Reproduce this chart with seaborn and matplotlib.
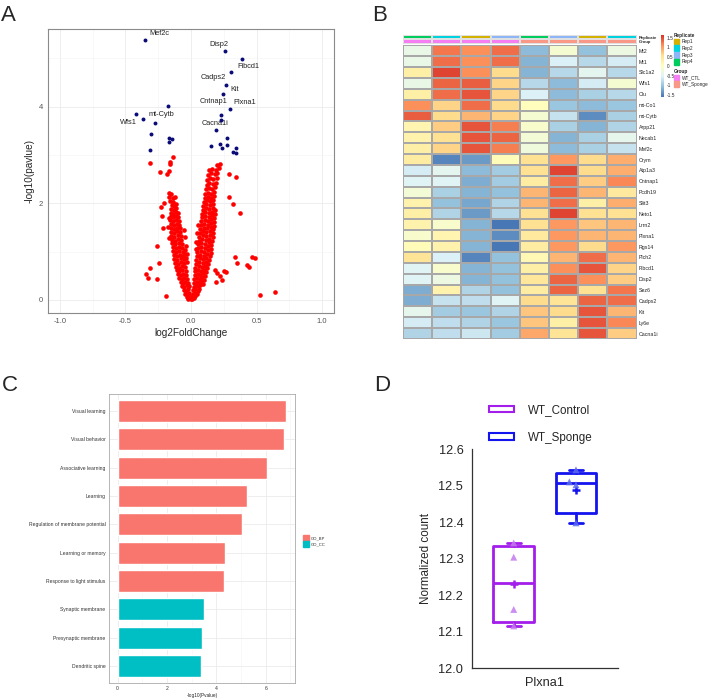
import matplotlib
matplotlib.use("Agg")
import matplotlib.pyplot as plt
import seaborn as sns
import pandas as pd
import numpy as np
from matplotlib.colors import ListedColormap, LinearSegmentedColormap
from matplotlib.patches import Patch

sns.set_style("white")
plt.rcParams['font.family'] = ['Liberation Sans', 'DejaVu Sans']
plt.rcParams['axes.unicode_minus'] = False

# ---------------- data: A (volcano) ----------------
sig_lfc = [-0.349, 0.260, 0.392, 0.305, 0.267, 0.242, 0.300, 0.232, 0.232, 0.193, 0.275, 0.219, 0.150,
           0.277, 0.234, 0.343, 0.318, 0.341, -0.176, -0.422, -0.369, -0.277, -0.305, -0.165, -0.142, -0.170, -0.313]
sig_logp = [5.39, 5.15, 4.99, 4.73, 4.46, 4.26, 3.95, 3.83, 3.72, 3.52, 3.36, 3.23, 3.19,
            3.21, 3.14, 3.14, 3.07, 3.05, 4.01, 3.84, 3.75, 3.67, 3.43, 3.36, 3.33, 3.27, 3.10]
label_genes = ['Mef2c', 'Disp2', 'Fibcd1', 'Cadps2', 'Kit', 'Cntnap1', 'Plxna1', 'Cacna1i', 'mt-Cytb', 'Wfs1']
label_x = [-0.24, 0.209, 0.44, 0.173, 0.333, 0.168, 0.407, 0.18, -0.226, -0.476]
label_y = [5.52, 5.28, 4.84, 4.61, 4.35, 4.11, 4.08, 3.66, 3.84, 3.68]

red_pts = [
    (-0.020, 0.02), (-0.008, 0.04), (0.000, 0.01), (0.010, 0.03), (0.022, 0.05), (-0.032, 0.07), (0.034, 0.08), (0.004, 0.09),
    (-0.042, 0.13), (-0.026, 0.11), (-0.012, 0.14), (0.014, 0.12), (0.028, 0.15), (0.042, 0.13),
    (-0.056, 0.21), (-0.040, 0.19), (-0.022, 0.22), (0.018, 0.20), (0.034, 0.23), (0.050, 0.19), (0.062, 0.22),
    (-0.070, 0.29), (-0.052, 0.27), (-0.032, 0.30), (-0.018, 0.28), (0.020, 0.27), (0.038, 0.30), (0.056, 0.28), (0.072, 0.31),
    (-0.080, 0.37), (-0.064, 0.35), (-0.046, 0.38), (-0.026, 0.36), (0.022, 0.35), (0.042, 0.38), (0.062, 0.36), (0.080, 0.39), (0.092, 0.34),
    (-0.090, 0.45), (-0.072, 0.43), (-0.054, 0.46), (-0.032, 0.44), (0.026, 0.43), (0.046, 0.46), (0.066, 0.44), (0.086, 0.47), (0.100, 0.42),
    (-0.100, 0.53), (-0.080, 0.51), (-0.060, 0.54), (-0.036, 0.52), (0.028, 0.51), (0.050, 0.54), (0.072, 0.52), (0.094, 0.55), (0.108, 0.50),
    (-0.108, 0.61), (-0.088, 0.59), (-0.066, 0.62), (-0.040, 0.60), (0.030, 0.59), (0.054, 0.62), (0.078, 0.60), (0.100, 0.63), (0.118, 0.58),
    (-0.115, 0.69), (-0.094, 0.67), (-0.070, 0.70), (-0.044, 0.68), (0.034, 0.67), (0.058, 0.70), (0.082, 0.68), (0.106, 0.71), (0.125, 0.66),
    (-0.120, 0.77), (-0.100, 0.75), (-0.076, 0.78), (-0.050, 0.76), (-0.034, 0.79), (0.036, 0.75), (0.062, 0.78), (0.088, 0.76), (0.112, 0.79), (0.132, 0.74),
    (-0.126, 0.85), (-0.104, 0.83), (-0.080, 0.86), (-0.054, 0.84), (-0.038, 0.87), (0.040, 0.83), (0.066, 0.86), (0.092, 0.84), (0.118, 0.87), (0.138, 0.82),
    (-0.132, 0.93), (-0.108, 0.91), (-0.084, 0.94), (-0.058, 0.92), (-0.042, 0.95), (0.044, 0.91), (0.070, 0.94), (0.096, 0.92), (0.122, 0.95), (0.145, 0.90),
    (-0.138, 1.01), (-0.112, 0.99), (-0.088, 1.02), (-0.062, 1.00), (-0.045, 1.03), (0.046, 0.99), (0.074, 1.02), (0.100, 1.00), (0.126, 1.03), (0.150, 0.98),
    (-0.140, 1.09), (-0.116, 1.07), (-0.090, 1.10), (-0.066, 1.08), (0.050, 1.07), (0.076, 1.10), (0.104, 1.08), (0.130, 1.11), (0.152, 1.06),
    (-0.144, 1.17), (-0.120, 1.15), (-0.094, 1.18), (-0.070, 1.16), (0.054, 1.15), (0.080, 1.18), (0.108, 1.16), (0.134, 1.19), (0.156, 1.14),
    (-0.146, 1.25), (-0.122, 1.23), (-0.098, 1.26), (-0.074, 1.24), (0.058, 1.23), (0.084, 1.26), (0.112, 1.24), (0.138, 1.27), (0.160, 1.22),
    (-0.150, 1.33), (-0.126, 1.31), (-0.100, 1.34), (-0.078, 1.32), (0.062, 1.31), (0.088, 1.34), (0.116, 1.32), (0.142, 1.35), (0.164, 1.30),
    (-0.152, 1.41), (-0.128, 1.39), (-0.104, 1.42), (-0.082, 1.40), (0.066, 1.39), (0.092, 1.42), (0.118, 1.40), (0.146, 1.43), (0.168, 1.38),
    (-0.154, 1.49), (-0.130, 1.47), (-0.106, 1.50), (-0.086, 1.48), (0.070, 1.47), (0.096, 1.50), (0.122, 1.48), (0.150, 1.51), (0.170, 1.46),
    (-0.156, 1.57), (-0.132, 1.55), (-0.110, 1.58), (-0.090, 1.56), (0.074, 1.55), (0.100, 1.58), (0.126, 1.56), (0.152, 1.59), (0.174, 1.54),
    (-0.158, 1.65), (-0.134, 1.63), (-0.112, 1.66), (-0.094, 1.64), (0.078, 1.63), (0.104, 1.66), (0.130, 1.64), (0.156, 1.67), (0.176, 1.62),
    (-0.156, 1.73), (-0.136, 1.71), (-0.116, 1.74), (-0.098, 1.72), (0.082, 1.71), (0.108, 1.74), (0.134, 1.72), (0.160, 1.75), (0.178, 1.70),
    (-0.154, 1.81), (-0.136, 1.79), (-0.118, 1.82), (-0.100, 1.80), (0.086, 1.79), (0.110, 1.82), (0.136, 1.80), (0.162, 1.83), (0.180, 1.78),
    (-0.150, 1.89), (-0.132, 1.87), (-0.114, 1.90), (0.090, 1.87), (0.114, 1.90), (0.140, 1.88), (0.164, 1.91), (0.182, 1.86),
    (-0.148, 1.97), (-0.130, 1.95), (-0.112, 1.98), (0.094, 1.95), (0.118, 1.98), (0.144, 1.96), (0.168, 1.99),
    (-0.160, 2.05), (-0.135, 2.03), (0.100, 2.03), (0.122, 2.06), (0.148, 2.04), (0.170, 2.07),
    (-0.165, 2.13), (-0.140, 2.11), (-0.120, 2.14), (0.104, 2.11), (0.126, 2.14), (0.152, 2.12), (0.174, 2.15),
    (-0.170, 2.21), (-0.150, 2.19), (0.108, 2.19), (0.130, 2.22), (0.156, 2.20), (0.178, 2.23),
    (0.114, 2.29), (0.136, 2.32), (0.160, 2.30), (0.180, 2.33),
    (0.120, 2.39), (0.140, 2.42), (0.164, 2.40), (0.190, 2.43),
    (0.124, 2.49), (0.146, 2.52), (0.170, 2.50), (0.196, 2.53),
    (0.130, 2.59), (0.152, 2.62), (0.180, 2.60), (0.200, 2.63),
    (0.140, 2.69), (0.160, 2.72), (0.190, 2.70), (0.215, 2.73),
    (0.200, 2.80), (0.220, 2.82),
    (-0.030, 0.95), (-0.035, 1.12), (-0.045, 1.30), (0.035, 1.05), (0.040, 1.20), (0.045, 1.38), (-0.050, 1.45),
    (0.050, 1.55), (-0.170, 1.28), (-0.172, 1.52), (-0.168, 1.70),
    (-0.239, 2.65), (-0.183, 2.61), (-0.170, 2.66), (-0.163, 2.81), (-0.158, 2.85), (-0.140, 2.97), (-0.310, 2.83),
    (-0.209, 2.00), (-0.226, 1.92), (-0.221, 1.73), (-0.213, 1.50), (-0.257, 1.11), (-0.244, 0.77), (-0.341, 0.54),
    (-0.328, 0.46), (-0.310, 0.66), (-0.260, 0.44), (-0.190, 0.08),
    (0.290, 2.60), (0.343, 2.54), (0.290, 2.13), (0.320, 1.98), (0.376, 1.80), (0.338, 0.88), (0.351, 0.77), (0.427, 0.73),
    (0.440, 0.69), (0.466, 0.88), (0.485, 0.86), (0.529, 0.11), (0.641, 0.16),
    (0.180, 0.62), (0.200, 0.55), (0.220, 0.50), (0.235, 0.42), (0.190, 0.38), (0.250, 0.60), (0.270, 0.58),
]
red_lfc = [p[0] for p in red_pts]
red_logp = [p[1] for p in red_pts]

# ---------------- data: B (heatmap) ----------------
heat_genes = ['Mt2', 'Mt1', 'Slc1a2', 'Wfs1', 'Clu', 'mt-Co1', 'mt-Cytb', 'Arpp21', 'Necab1', 'Mef2c',
              'Crym', 'Atp1a3', 'Cntnap1', 'Pcdh19', 'Slit3', 'Neto1', 'Lrrn2', 'Plxna1', 'Rgs14', 'Plch2',
              'Fibcd1', 'Disp2', 'Sez6', 'Cadps2', 'Kit', 'Ly6e', 'Cacna1i']
heat_vals = [
    [-0.35, 1.25, 1.10, 1.30, -1.10, -0.15, -1.05, -0.30],
    [-0.35, 1.30, 1.10, 1.30, -1.15, -0.55, -0.80, -0.60],
    [0.30, 1.55, 1.10, 0.60, -1.15, -0.80, -0.45, -0.80],
    [-0.35, 1.35, 1.40, 0.65, -0.80, -1.10, -0.60, -0.15],
    [0.30, 1.30, 1.45, 0.65, -0.55, -1.10, -0.90, -0.80],
    [1.10, 0.65, 1.30, 0.60, 0.05, -1.00, -1.10, -1.00],
    [1.40, 0.60, 0.85, 0.65, -0.15, -0.70, -1.45, -0.90],
    [0.20, 0.70, 1.45, 1.20, -0.10, -0.90, -1.15, -0.85],
    [0.25, 0.55, 1.45, 1.35, -0.20, -1.15, -0.90, -0.40],
    [0.30, 0.65, 1.45, 1.20, -0.25, -1.10, -0.90, -0.70],
    [0.35, -1.50, -1.35, 0.10, 0.55, 1.05, 0.60, 0.90],
    [-0.60, -0.45, -1.10, -0.95, 0.55, 1.55, 0.60, 0.90],
    [-0.50, -0.50, -1.20, -0.95, 0.35, 1.30, 0.70, 1.15],
    [-0.20, -0.90, -1.15, -1.05, 0.85, 1.35, 0.85, 0.40],
    [0.25, -1.05, -1.25, -0.85, 0.85, 1.30, 0.30, 0.90],
    [0.30, -0.85, -1.35, -0.80, 0.55, 1.55, 0.55, 0.55],
    [0.25, -0.10, -1.15, -1.60, 0.55, 1.05, 0.75, 0.85],
    [-0.10, 0.20, -1.15, -1.45, 0.40, 1.05, 0.85, 0.85],
    [0.10, 0.25, -1.15, -1.60, 0.35, 1.05, 0.60, 1.05],
    [0.50, -0.55, -1.50, -1.05, 0.15, 0.85, 1.30, 0.85],
    [-0.50, -0.10, -1.15, -1.05, 0.30, 1.10, 1.45, 0.65],
    [-0.50, -0.30, -1.15, -1.05, 0.45, 1.35, 1.10, 0.70],
    [-1.20, 0.25, -0.85, -1.05, 0.35, 1.35, 0.55, 1.25],
    [-1.20, -0.70, -0.75, -0.50, 0.60, 0.50, 1.35, 1.30],
    [-0.40, -0.95, -1.00, -0.85, 0.75, 0.60, 1.45, 0.85],
    [-0.60, -0.75, -0.85, -1.00, 0.75, 0.30, 1.45, 1.15],
    [-0.85, -0.75, -0.65, -0.95, 0.95, 0.50, 1.45, 0.70],
]
sample_rep = ['Rep4', 'Rep2', 'Rep1', 'Rep3', 'Rep4', 'Rep3', 'Rep1', 'Rep2']
sample_group = ['WT_CTL'] * 4 + ['WT_Sponge'] * 4
rep_names = ['Rep1', 'Rep2', 'Rep3', 'Rep4']
rep_colors = ['#D2B100', '#00D3E0', '#8CB6F8', '#00CD5E']
group_names = ['WT_CTL', 'WT_Sponge']
group_colors = ['#F57EF2', '#F99886']

# ---------------- data: C (GO bars) ----------------
go_terms = ['Visual learning', 'Visual behavior', 'Associative learning', 'Learning',
            'Regulation of membrane potential', 'Learning or memory', 'Response to light stimulus',
            'Synaptic membrane', 'Presynaptic membrane', 'Dendritic spine']
go_logp = [6.82, 6.74, 6.05, 5.23, 5.03, 4.34, 4.31, 3.49, 3.42, 3.38]
go_class = ['GO_BP'] * 7 + ['GO_CC'] * 3

# ---------------- data: D (box plot) ----------------
box_groups = ['WT_Control', 'WT_Sponge']
ctl_vals = [12.116, 12.161, 12.304, 12.343]
spg_vals = [12.398, 12.502, 12.510, 12.543]
box_colors = ['#A31EEA', '#1414EE']
pt_colors = ['#C37CEE', '#5C6BF0']

W, H = 708, 699
fig = plt.figure(figsize=(W / 100, H / 100), dpi=100)


def rect(l, t, r, b):
    return [l / W, 1 - b / H, (r - l) / W, (b - t) / H]


# ======== A ========
axA = fig.add_axes(rect(48, 29, 334, 313))
sns.scatterplot(x=red_lfc, y=red_logp, color='#FF0000', s=11, linewidth=0, ax=axA, zorder=3)
sns.scatterplot(x=sig_lfc, y=sig_logp, color='#0B0B78', s=8, linewidth=0, ax=axA, zorder=4)
for g, tx, ty in zip(label_genes, label_x, label_y):
    axA.text(tx, ty, g, fontsize=5.3, ha='center', va='center', color='#222222')
axA.set_xlim(-1.09, 1.09)
axA.set_ylim(-0.27, 5.61)
axA.set_xticks([-1, -0.5, 0, 0.5, 1])
axA.set_xticklabels(['-1.0', '-0.5', '0.0', '0.5', '1.0'])
axA.set_xticks([-0.75, -0.25, 0.25, 0.75], minor=True)
axA.set_yticks([0, 2, 4])
axA.set_yticks([1, 3, 5], minor=True)
axA.grid(which='major', color='#EBEBEB', lw=0.6)
axA.grid(which='minor', color='#F3F3F3', lw=0.4)
axA.set_axisbelow(True)
axA.tick_params(which='major', length=2, width=0.5, color='#555555', labelsize=5.5, labelcolor='#555555', pad=1.5)
axA.tick_params(which='minor', length=0)
for s in axA.spines.values():
    s.set_color('#8A8A8A')
    s.set_linewidth(0.8)
axA.set_xlabel('log2FoldChange', fontsize=7.2, labelpad=2)
axA.set_ylabel('-log10(pavlue)', fontsize=7.2, labelpad=3)

# ======== B ========
heat_df = pd.DataFrame(heat_vals, index=heat_genes)
hm_cmap = LinearSegmentedColormap.from_list(
    'pheat', ['#4575B4', '#91BFDB', '#E0F3F8', '#FFFFBF', '#FEE090', '#FC8D59', '#D73027'])
axB = fig.add_axes(rect(403, 45.3, 636.7, 339))
cax = fig.add_axes(rect(661.3, 34.7, 663.8, 97))
sns.heatmap(heat_df, cmap=hm_cmap, vmin=-1.62, vmax=1.67, linewidths=0.3, linecolor='#A8A8A8',
            xticklabels=False, yticklabels=True, ax=axB, cbar_ax=cax)
axB.yaxis.tick_right()
axB.tick_params(axis='y', length=0, labelsize=3.8, pad=1.5, labelrotation=0)
axB.set_ylabel('')
cax.set_yticks([-1.5, -1, -0.5, 0, 0.5, 1, 1.5])
cax.set_yticklabels(['-1.5', '-1', '-0.5', '0', '0.5', '1', '1.5'])
cax.tick_params(length=0, labelsize=3.4, pad=2)

ann_names = rep_names + group_names
ann_codes = pd.DataFrame([[ann_names.index(r) for r in sample_rep],
                          [ann_names.index(g) for g in sample_group]], index=['Replicate', 'Group'])
axAnn = fig.add_axes(rect(403, 34.7, 636.7, 43.9))
sns.heatmap(ann_codes, cmap=ListedColormap(rep_colors + group_colors), vmin=-0.5, vmax=5.5,
            linewidths=0.3, linecolor='#E0E0E0', cbar=False, xticklabels=False, yticklabels=True, ax=axAnn)
axAnn.yaxis.tick_right()
axAnn.tick_params(axis='y', length=0, labelsize=3.0, pad=1.5, labelrotation=0)
for t in axAnn.get_yticklabels():
    t.set_fontweight('bold')

legR = fig.legend([Patch(color=c) for c in rep_colors], rep_names, title='Replicate', loc='upper left',
                  bbox_to_anchor=(674 / W, 1 - 32.5 / H), fontsize=3.4, frameon=False, handlelength=1.1,
                  handleheight=1.5, labelspacing=0.22, handletextpad=0.5, borderpad=0, borderaxespad=0,
                  title_fontproperties={'weight': 'bold', 'size': 3.4})
legR._legend_box.align = 'left'
legG = fig.legend([Patch(color=c) for c in group_colors], group_names, title='Group', loc='upper left',
                  bbox_to_anchor=(674 / W, 1 - 68.5 / H), fontsize=3.4, frameon=False, handlelength=1.1,
                  handleheight=1.5, labelspacing=0.22, handletextpad=0.5, borderpad=0, borderaxespad=0,
                  title_fontproperties={'weight': 'bold', 'size': 3.4})
legG._legend_box.align = 'left'

# ======== C ========
axC = fig.add_axes(rect(109, 394, 295, 683))
go_pal = {'GO_BP': '#F8766D', 'GO_CC': '#00BFC4'}
sns.barplot(x=go_logp, y=go_terms, hue=go_class, palette=go_pal, dodge=False, width=0.78,
            saturation=1, legend=False, ax=axC, zorder=3)
axC.set_xlim(-0.35, 7.19)
axC.set_ylim(9.6, -0.6)
axC.set_xticks([0, 2, 4, 6])
axC.set_xticks([1, 3, 5, 7], minor=True)
axC.grid(which='major', color='#EBEBEB', lw=0.6)
axC.grid(which='minor', axis='x', color='#F3F3F3', lw=0.4)
axC.set_axisbelow(True)
axC.tick_params(which='major', length=1.5, width=0.4, color='#555555', labelsize=3.6, labelcolor='#333333', pad=1)
axC.tick_params(which='minor', length=0)
for s in axC.spines.values():
    s.set_color('#AAAAAA')
    s.set_linewidth(0.6)
axC.set_xlabel('-log10(Pvalue)', fontsize=3.4, labelpad=1)
axC.set_ylabel('')
fig.legend([Patch(color=go_pal['GO_BP']), Patch(color=go_pal['GO_CC'])], ['GO_BP', 'GO_CC'],
           loc='center left', bbox_to_anchor=(301 / W, 1 - 541 / H), fontsize=3.0, frameon=False,
           handlelength=1.3, handleheight=1.7, labelspacing=0.15, handletextpad=0.5, borderpad=0)

# ======== D ========
axD = fig.add_axes(rect(471.7, 449, 618, 668.3))
box_data = [ctl_vals, spg_vals]
box_pos = [-0.2, 0.2]
stats = []
for vals in box_data:
    q1, med, q3 = np.percentile(vals, [25, 50, 75], method='weibull')
    stats.append(dict(med=med, q1=q1, q3=q3, whislo=min(vals), whishi=max(vals), mean=np.mean(vals), fliers=[]))
for st, pos, col in zip(stats, box_pos, box_colors):
    axD.bxp([st], positions=[pos], widths=0.26, capwidths=0.09, showmeans=True, showfliers=False,
            boxprops=dict(color=col, lw=2.0), whiskerprops=dict(color=col, lw=2.0),
            capprops=dict(color=col, lw=2.0), medianprops=dict(color=col, lw=2.0),
            meanprops=dict(marker='+', markeredgecolor=col, markersize=6, markeredgewidth=1.8))
long_df = pd.DataFrame({'gene': ['Plxna1'] * 8,
                        'group': [box_groups[0]] * 4 + [box_groups[1]] * 4,
                        'value': ctl_vals + spg_vals})
sns.swarmplot(data=long_df, x='gene', y='value', hue='group', dodge=True, marker='^', size=5,
              palette=dict(zip(box_groups, pt_colors)), alpha=0.85, linewidth=0, legend=False,
              ax=axD, zorder=5)
axD.set_xlim(-0.47, 0.47)
axD.set_ylim(12.0, 12.6)
axD.set_yticks(np.round(np.arange(12.0, 12.61, 0.1), 1))
axD.set_yticklabels(['12.0', '12.1', '12.2', '12.3', '12.4', '12.5', '12.6'])
axD.set_xticks([0])
axD.set_xticklabels(['Plxna1'])
sns.despine(ax=axD)
for s in ['left', 'bottom']:
    axD.spines[s].set_color('#333333')
    axD.spines[s].set_linewidth(0.9)
axD.tick_params(axis='both', direction='out', length=4, width=0.9, color='#333333', labelsize=9.2, pad=2)
axD.set_xlabel('')
axD.set_ylabel('Normalized count', fontsize=8.4, labelpad=5)
legD = fig.legend([Patch(facecolor='white', edgecolor=c, lw=1.5) for c in box_colors], box_groups,
                  loc='upper left', bbox_to_anchor=(489 / W, 1 - 404 / H), fontsize=8.4, frameon=False,
                  handlelength=2.1, handleheight=0.45, labelspacing=1.35, handletextpad=1.2, borderpad=0,
                  borderaxespad=0)

# panel letters
for letter, x, y in [('A', 1, 21), ('B', 372, 21), ('C', 2, 391), ('D', 374, 391)]:
    fig.text(x / W, 1 - y / H, letter, fontsize=16, ha='left', va='baseline')

fig.savefig('out.png', dpi=100)
